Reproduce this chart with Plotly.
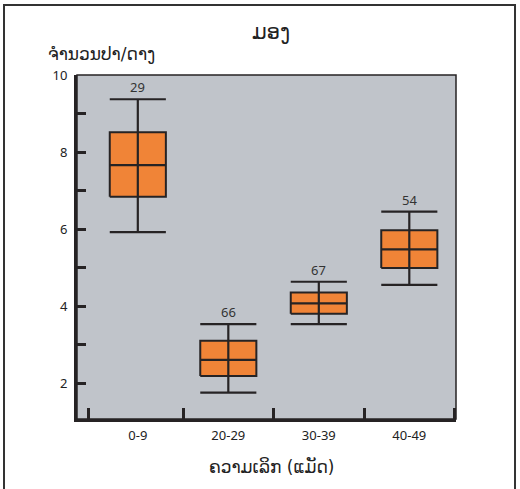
import plotly.graph_objects as go

# Depth classes and sample counts
depths = ["0-9", "20-29", "30-39", "40-49"]
counts = [29, 66, 67, 54]

# Box statistics (fish per net)
lower = [5.92, 1.75, 3.53, 4.55]
q1 = [6.84, 2.18, 3.80, 4.99]
median = [7.66, 2.60, 4.07, 5.47]
q3 = [8.51, 3.10, 4.35, 5.97]
upper = [9.37, 3.53, 4.63, 6.45]

# Y tick labels (every unit ticked, even units labelled)
y_ticks = [2, 3, 4, 5, 6, 7, 8, 9, 10]
y_ticktext = ["2", "", "4", "", "6", "", "8", "", "10"]

ORANGE = "#f08437"
DARK = "#262324"
BG = "#c0c4ca"
FONT = "Noto Sans, Open Sans, DejaVu Sans, sans-serif"
LAO_FONT = "DejaVu Sans, Noto Sans, sans-serif"
HW = 0.31  # half box width in category units

fig = go.Figure()

for i, d in enumerate(depths):
    # box body
    fig.add_trace(go.Scatter(
        x=[i - HW, i + HW, i + HW, i - HW, i - HW],
        y=[q1[i], q1[i], q3[i], q3[i], q1[i]],
        mode="lines", fill="toself", fillcolor=ORANGE,
        line=dict(color=DARK, width=2), hoverinfo="skip", showlegend=False))
    # whisker running through the box, median and caps
    fig.add_trace(go.Scatter(
        x=[i, i, None, i - HW, i + HW, None, i - HW, i + HW, None, i - HW, i + HW],
        y=[lower[i], upper[i], None, median[i], median[i], None,
           lower[i], lower[i], None, upper[i], upper[i]],
        mode="lines", line=dict(color=DARK, width=2.2),
        hoverinfo="skip", showlegend=False))
    fig.add_annotation(x=i, y=upper[i], text=str(counts[i]), showarrow=False,
                       yanchor="bottom", yshift=1,
                       font=dict(size=13, color="#333333", family=FONT))

fig.update_layout(
    width=520, height=489,
    margin=dict(l=77, r=64, t=75, b=70),
    paper_bgcolor="white", plot_bgcolor=BG,
    font=dict(family=FONT, color=DARK),
    xaxis=dict(
        range=[-0.672, 3.516], showgrid=False, zeroline=False,
        showline=True, linewidth=3, linecolor=DARK,
        tickmode="array", tickvals=list(range(len(depths))), ticktext=depths,
        ticks="", ticklabelstandoff=2,
        tickfont=dict(size=13, color="#222222"),
        minor=dict(tickmode="array", tickvals=[-0.55, 0.5, 1.5, 2.5, 3.5],
                   ticks="inside", ticklen=11, tickwidth=3, tickcolor=DARK),
        fixedrange=True),
    yaxis=dict(
        range=[1.065, 10], showgrid=False, zeroline=False,
        showline=True, linewidth=3, linecolor=DARK,
        tickmode="array", tickvals=y_ticks, ticktext=y_ticktext,
        ticks="inside", ticklen=9, tickwidth=3, tickcolor=DARK,
        ticklabelstandoff=4,
        tickfont=dict(size=13, color="#222222"),
        fixedrange=True),
)

# thin border on the top and right of the plotting area
fig.add_shape(type="rect", xref="paper", yref="paper", x0=0, x1=1, y0=0, y1=1,
              line=dict(color=DARK, width=1.5), layer="above")
# outer frame around the figure
fig.add_shape(type="rect", xref="paper", yref="paper",
              x0=-0.1926, x1=1.1557, y0=-0.3, y1=1.2035,
              line=dict(color="#333333", width=2), layer="above")

# title and axis titles
fig.add_annotation(xref="paper", yref="paper", x=0.513, y=1.124, text="ມອງ",
                   showarrow=False, xanchor="center", yanchor="middle",
                   font=dict(size=21, color="#222222", family=LAO_FONT))
fig.add_annotation(xref="paper", yref="paper", x=-0.083, y=1.06, text="ຈຳນວນປາ/ດາງ",
                   showarrow=False, xanchor="left", yanchor="middle",
                   font=dict(size=17, color="#222222", family=LAO_FONT))
fig.add_annotation(xref="paper", yref="paper", x=0.514, y=-0.138, text="ຄວາມເລິກ (ແມັດ)",
                   showarrow=False, xanchor="center", yanchor="middle",
                   font=dict(size=17, color="#222222", family=LAO_FONT))

fig.write_html("out.html", config={"displayModeBar": False})
